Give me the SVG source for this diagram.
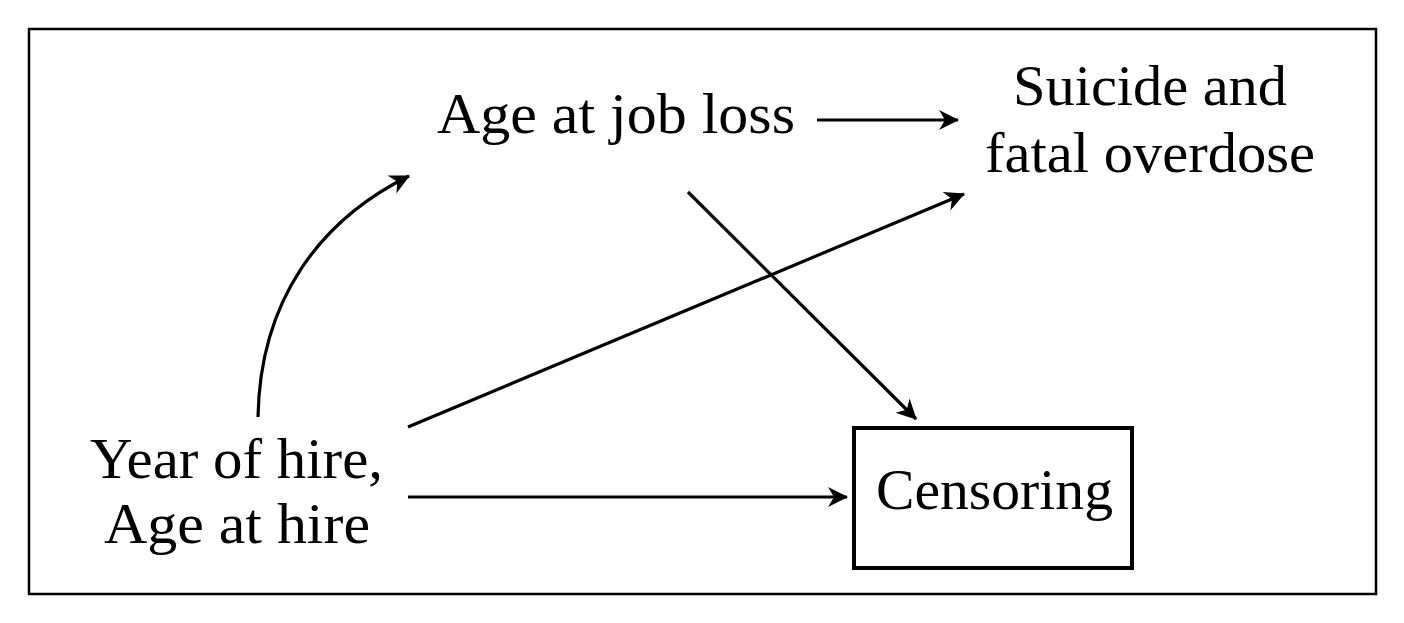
<svg xmlns="http://www.w3.org/2000/svg" width="1404" height="623" viewBox="0 0 1404 623">
<style>
text{font-family:"Liberation Serif","DejaVu Serif",serif;font-size:57px;fill:#000}
.e{fill:none;stroke:#000;stroke-width:3.2;marker-end:url(#ah)}
</style>
<defs>
<marker id="ah" markerUnits="userSpaceOnUse" viewBox="-20 -11 22 22" refX="0" refY="0" markerWidth="22" markerHeight="22" orient="auto">
<path d="M1,0 L-19,-10 L-13,0 L-19,10 Z" fill="#000"/>
</marker>
</defs>
<rect x="0" y="0" width="1404" height="623" fill="#fff"/>
<rect x="29" y="29" width="1347" height="565" fill="none" stroke="#000" stroke-width="2.5"/>
<g id="age-job-loss"><text x="437" y="133" textLength="358" lengthAdjust="spacingAndGlyphs">Age at job loss</text></g>
<g id="suicide"><text x="1013" y="105" textLength="274" lengthAdjust="spacingAndGlyphs">Suicide and</text><text x="985" y="172" textLength="330" lengthAdjust="spacingAndGlyphs">fatal overdose</text></g>
<g id="year-hire"><text x="90" y="478" textLength="293" lengthAdjust="spacingAndGlyphs">Year of hire,</text><text x="104" y="543" textLength="266" lengthAdjust="spacingAndGlyphs">Age at hire</text></g>
<g id="censoring"><rect x="854" y="428" width="278" height="140" fill="none" stroke="#000" stroke-width="4"/><text x="876" y="509" textLength="237" lengthAdjust="spacingAndGlyphs">Censoring</text></g>
<g id="connectors">
<path class="e" d="M817,120 L958,120"/>
<path class="e" d="M688,192 L916,419"/>
<path class="e" d="M408,427 L964,194"/>
<path class="e" d="M408,497 L847,497"/>
<path class="e" d="M258,417 C260,300 320,220 409,176"/>
</g>
</svg>
